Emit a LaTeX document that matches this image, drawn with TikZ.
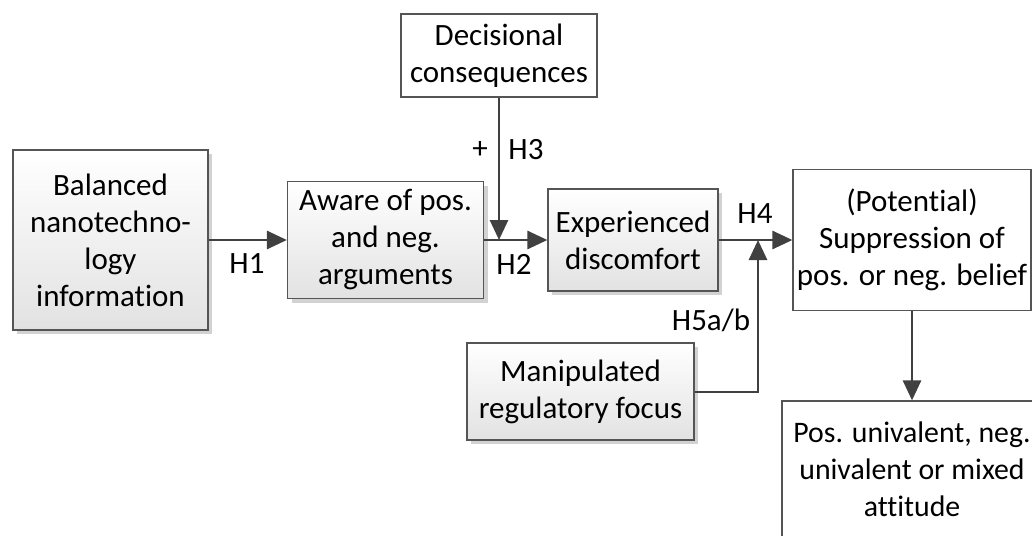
\documentclass[tikz,border=0pt]{standalone}
\usepackage{fontspec}
\setmainfont{Carlito}[Ligatures=NoCommon]
\usetikzlibrary{arrows.meta,shadows}
\definecolor{linec}{RGB}{64,64,64}
\definecolor{boxline}{RGB}{85,85,85}
\definecolor{gradbot}{RGB}{226,226,226}
\definecolor{shadc}{RGB}{210,210,210}
\begin{document}
\begin{tikzpicture}[x=1pt,y=-1pt,
  every node/.style={font=\fontsize{31}{37}\selectfont, inner sep=0pt, align=center},
  gbox/.style={draw=boxline, line width=1.2pt, top color=white, bottom color=gradbot,
     drop shadow={shadow xshift=4pt, shadow yshift=-4pt, fill=shadc, opacity=1}},
  wbox/.style={draw=boxline, line width=1.2pt, fill=white},
  conn/.style={draw=linec, line width=2.8pt, -{Triangle[length=20pt,width=18pt]}},
  lbl/.style={text=black}]
\useasboundingbox (0,0) rectangle (1032,535);
\node[gbox, minimum width=195pt, minimum height=180pt] (bal) at (110.5,240) {Balanced\\nanotechno-\\logy\\information};
\node[gbox, minimum width=196pt, minimum height=117pt] (awa) at (385.5,240) {Aware of pos.\\and neg.\\arguments};
\node[wbox, minimum width=196pt, minimum height=83pt] (dec) at (499,55.5) {Decisional\\consequences};
\node[gbox, minimum width=170pt, minimum height=102pt] (exp) at (633,240) {Experienced\\discomfort};
\node[wbox, minimum width=238pt, minimum height=141pt] (pot) at (912,240) {(Potential)\\Suppression of\\pos. or neg. belief};
\node[gbox, minimum width=227pt, minimum height=97pt] (man) at (580.5,391.5) {Manipulated\\regulatory focus};
\node[wbox, minimum width=260pt, minimum height=136pt, font=\fontsize{29.8}{37}\selectfont] (att) at (912,469) {Pos. univalent, neg.\\univalent or mixed\\attitude};
\coordinate (j2) at (499,240);
\coordinate (j4) at (758,240);
\coordinate (m1) at (758,392);
\draw[conn] (bal.east) -- (awa.west);
\draw[conn] (awa.east) -- (exp.west);
\draw[conn] (dec.south) -- (j2);
\draw[conn] (exp.east) -- (pot.west);
\draw[conn] (man.east |- m1) -- (m1) -- (j4);
\draw[conn] (pot.south -| att.north) -- (att.north);
\node[lbl] (h1) at (247,264) {H1};
\node[lbl] (h2) at (514,264) {H2};
\node[lbl] (plus) at (480,150) {+};
\node[lbl] (h3) at (526,150) {H3};
\node[lbl] (h4) at (755,214) {H4};
\node[lbl] (h5) at (711,320) {H5a/b};
\end{tikzpicture}
\end{document}
